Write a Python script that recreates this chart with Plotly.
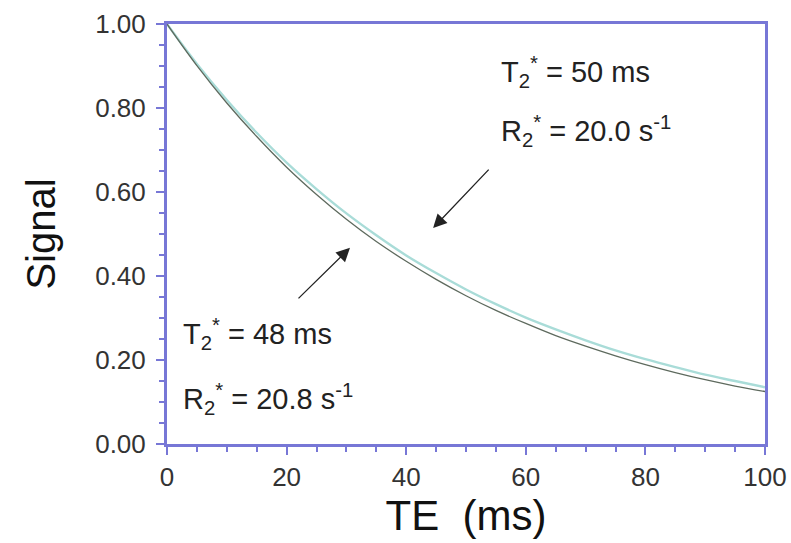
import plotly.graph_objects as go

te_ms = [0, 5, 10, 15, 20, 25, 30, 35, 40, 45, 50, 55, 60, 65, 70, 75, 80, 85, 90, 95, 100]
signal_t2_50 = [1.000, 0.905, 0.819, 0.741, 0.670, 0.607, 0.549, 0.497, 0.449, 0.407, 0.368,
                0.333, 0.301, 0.273, 0.247, 0.223, 0.202, 0.183, 0.165, 0.150, 0.135]
signal_t2_48 = [1.000, 0.901, 0.812, 0.732, 0.659, 0.594, 0.535, 0.482, 0.435, 0.392, 0.353,
                0.318, 0.287, 0.258, 0.233, 0.210, 0.189, 0.170, 0.153, 0.138, 0.125]

x_ticks = [0, 20, 40, 60, 80, 100]
y_ticks = [0.0, 0.2, 0.4, 0.6, 0.8, 1.0]

axis_col = "#7777d6"
font = "Liberation Sans, Arial, Helvetica, sans-serif"

fig = go.Figure()
fig.add_trace(go.Scatter(x=te_ms, y=signal_t2_50, mode="lines", line=dict(color="#a9dcd8", width=2.4, shape="spline"),
                         showlegend=False))
fig.add_trace(go.Scatter(x=te_ms, y=signal_t2_48, mode="lines", line=dict(color="#5e6a5e", width=1.3, shape="spline"),
                         showlegend=False))

ann_font = dict(family=font, size=29, color="#222222")
texts = [
    (55.6, 0.885, "T<sub>2</sub><sup>*</sup> = 50 ms"),
    (55.6, 0.745, "R<sub>2</sub><sup>*</sup> = 20.0 s<sup>-1</sup>"),
    (2.4, 0.262, "T<sub>2</sub><sup>*</sup> = 48 ms"),
    (2.4, 0.108, "R<sub>2</sub><sup>*</sup> = 20.8 s<sup>-1</sup>"),
]
for x, y, t in texts:
    fig.add_annotation(x=x, y=y, text=t, showarrow=False, xanchor="left", yanchor="middle", font=ann_font)

fig.add_annotation(x=44.5, y=0.514, ax=57, ay=-60, text="", showarrow=True, arrowhead=2, arrowsize=2.1,
                   arrowwidth=1.3, arrowcolor="#222222")
fig.add_annotation(x=30.6, y=0.467, ax=-53, ay=52, text="", showarrow=True, arrowhead=2, arrowsize=2.1,
                   arrowwidth=1.3, arrowcolor="#222222")

fig.update_layout(
    width=791, height=543,
    margin=dict(l=167, r=26, t=24, b=99),
    paper_bgcolor="white", plot_bgcolor="white",
    font=dict(family=font, color="#222222"),
)
fig.update_xaxes(
    range=[0, 100], tickvals=x_ticks, ticktext=[str(v) for v in x_ticks],
    showline=True, linecolor=axis_col, linewidth=3, mirror=True,
    ticks="outside", tickcolor=axis_col, tickwidth=2, ticklen=8,
    minor=dict(dtick=5, ticks="outside", ticklen=5, tickcolor=axis_col, tickwidth=2),
    showgrid=False, zeroline=False, automargin=False,
    tickfont=dict(size=26, family=font, color="#333333"),
    title=dict(text="TE  (ms)", font=dict(size=42, family=font, color="#111111"), standoff=1),
)
fig.update_yaxes(
    range=[0, 1], tickvals=y_ticks, ticktext=[f"{v:.2f}" for v in y_ticks],
    showline=True, linecolor=axis_col, linewidth=3, mirror=True,
    ticks="outside", tickcolor=axis_col, tickwidth=2, ticklen=8,
    minor=dict(dtick=0.05, ticks="outside", ticklen=5, tickcolor=axis_col, tickwidth=2),
    showgrid=False, zeroline=False, automargin=False,
    tickfont=dict(size=26, family=font, color="#333333"),
    ticklabelstandoff=5,
    title=dict(text="Signal", font=dict(size=40, family=font, color="#111111"), standoff=28),
)

fig.write_html("out.html")
